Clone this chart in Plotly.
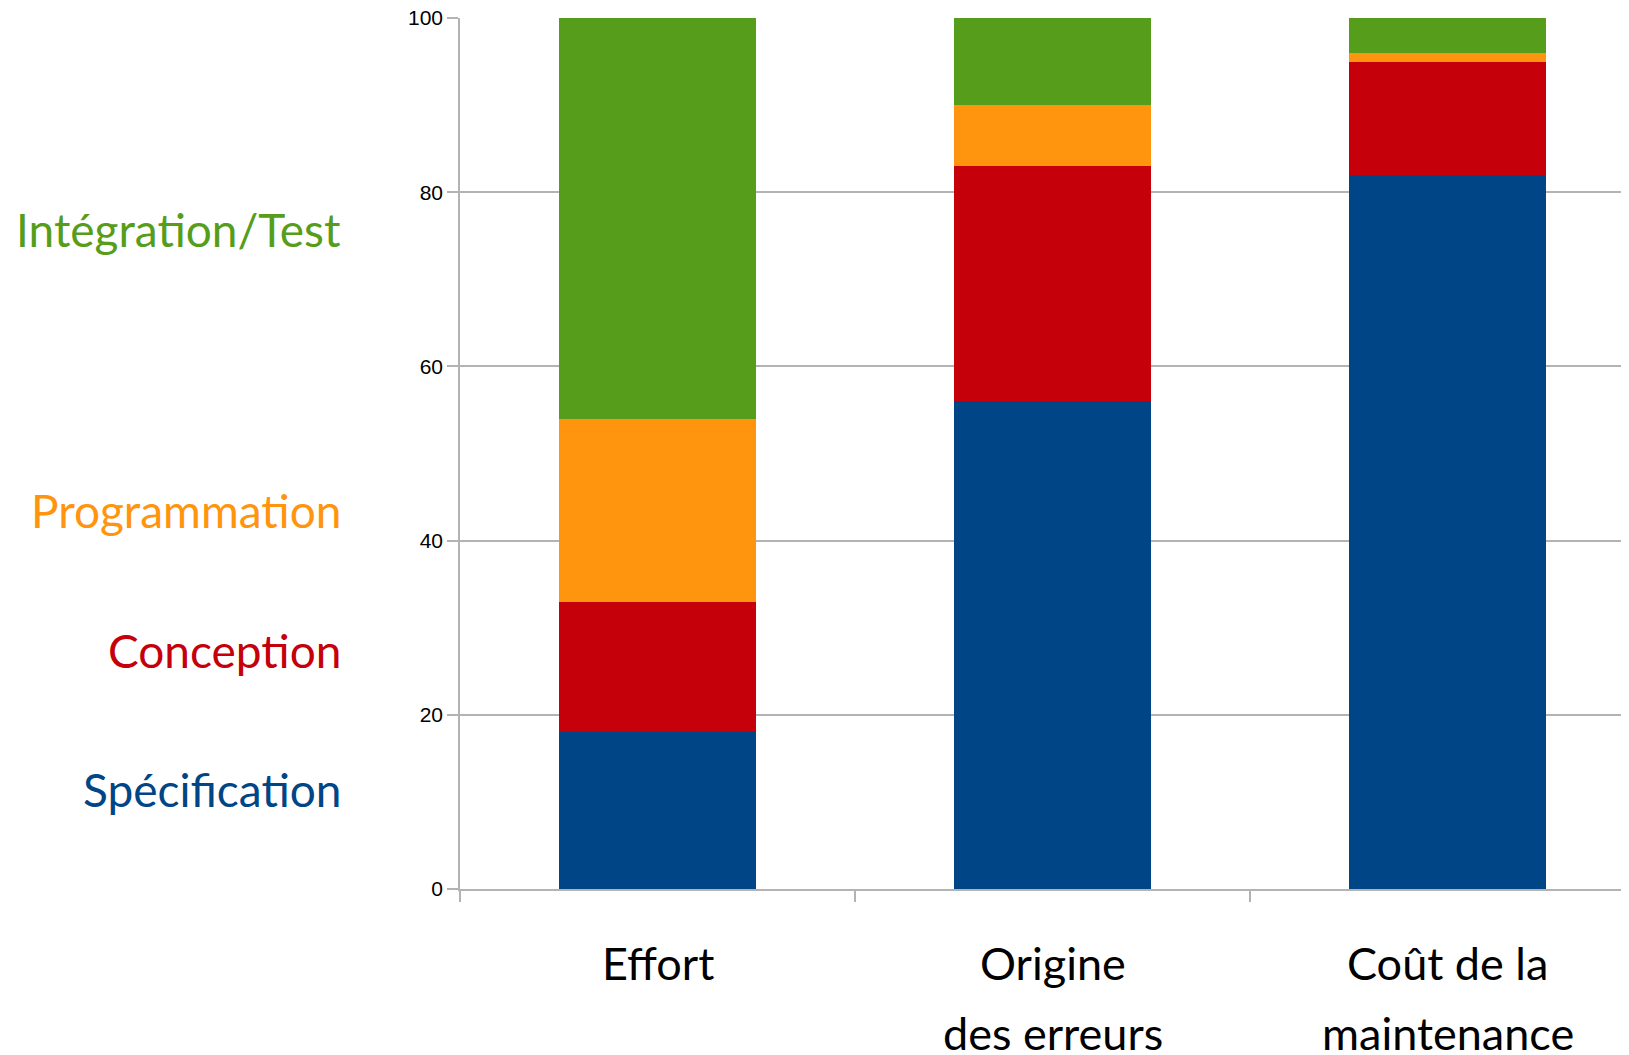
import plotly.graph_objects as go

categories = ["Effort", "Origine des erreurs", "Coût de la maintenance"]
label_line1 = ["Effort", "Origine", "Coût de la"]
label_line2 = ["", "des erreurs", "maintenance"]
series_names = ["Spécification", "Conception", "Programmation", "Intégration/Test"]
specification = [18, 56, 82]
conception = [15, 27, 13]
programmation = [21, 7, 1]
integration = [46, 10, 4]
colors = ["#004586", "#C5000B", "#FF950E", "#579D1C"]
label_y = [11.4, 27.4, 43.4, 75.7]

series_values = [specification, conception, programmation, integration]

fig = go.Figure()
for name, vals, col in zip(series_names, series_values, colors):
    fig.add_trace(go.Bar(x=categories, y=vals, name=name,
                         marker=dict(color=col, line=dict(width=0))))

LABEL_FONT = "Lato"
for name, yv, col in zip(series_names, label_y, colors):
    fig.add_annotation(x=-0.1005, xref="paper", xanchor="right",
                       y=yv, yref="y", yanchor="middle",
                       text=name, showarrow=False,
                       font=dict(family=LABEL_FONT, size=46, color=col))

for cat, l1, l2 in zip(categories, label_line1, label_line2):
    fig.add_annotation(x=cat, xref="x", y=-0.085, yref="paper", yanchor="middle",
                       text=l1, showarrow=False,
                       font=dict(family=LABEL_FONT, size=45, color="black"))
    if l2:
        fig.add_annotation(x=cat, xref="x", y=-0.165, yref="paper", yanchor="middle",
                           text=l2, showarrow=False,
                           font=dict(family=LABEL_FONT, size=45, color="black"))

fig.update_layout(
    width=1629, height=1055,
    barmode="stack", bargap=0.5,
    showlegend=False,
    plot_bgcolor="white", paper_bgcolor="white",
    margin=dict(l=452, r=8, t=10, b=174, autoexpand=False),
    xaxis=dict(
        type="category", categoryorder="array", categoryarray=categories,
        showticklabels=False, automargin=False,
        range=[-0.5, -0.5 + 1169 / 395],
        tickson="boundaries", ticks="outside", ticklen=11, tickwidth=1.5, tickcolor="#b3b3b3",
        showline=True, linecolor="#b3b3b3", linewidth=1.5,
        showgrid=False, zeroline=False,
    ),
    yaxis=dict(
        range=[0, 100], tickvals=[0, 20, 40, 60, 80, 100],
        ticks="outside", ticklen=11, tickwidth=1.5, tickcolor="#b3b3b3",
        showline=True, linecolor="#b3b3b3", linewidth=1.5,
        showgrid=True, gridcolor="#b3b3b3", gridwidth=1.5,
        zeroline=False, ticklabeloverflow="allow", automargin=False,
        tickfont=dict(family="Liberation Sans", size=21, color="black"),
    ),
)

fig.write_html("out.html")
